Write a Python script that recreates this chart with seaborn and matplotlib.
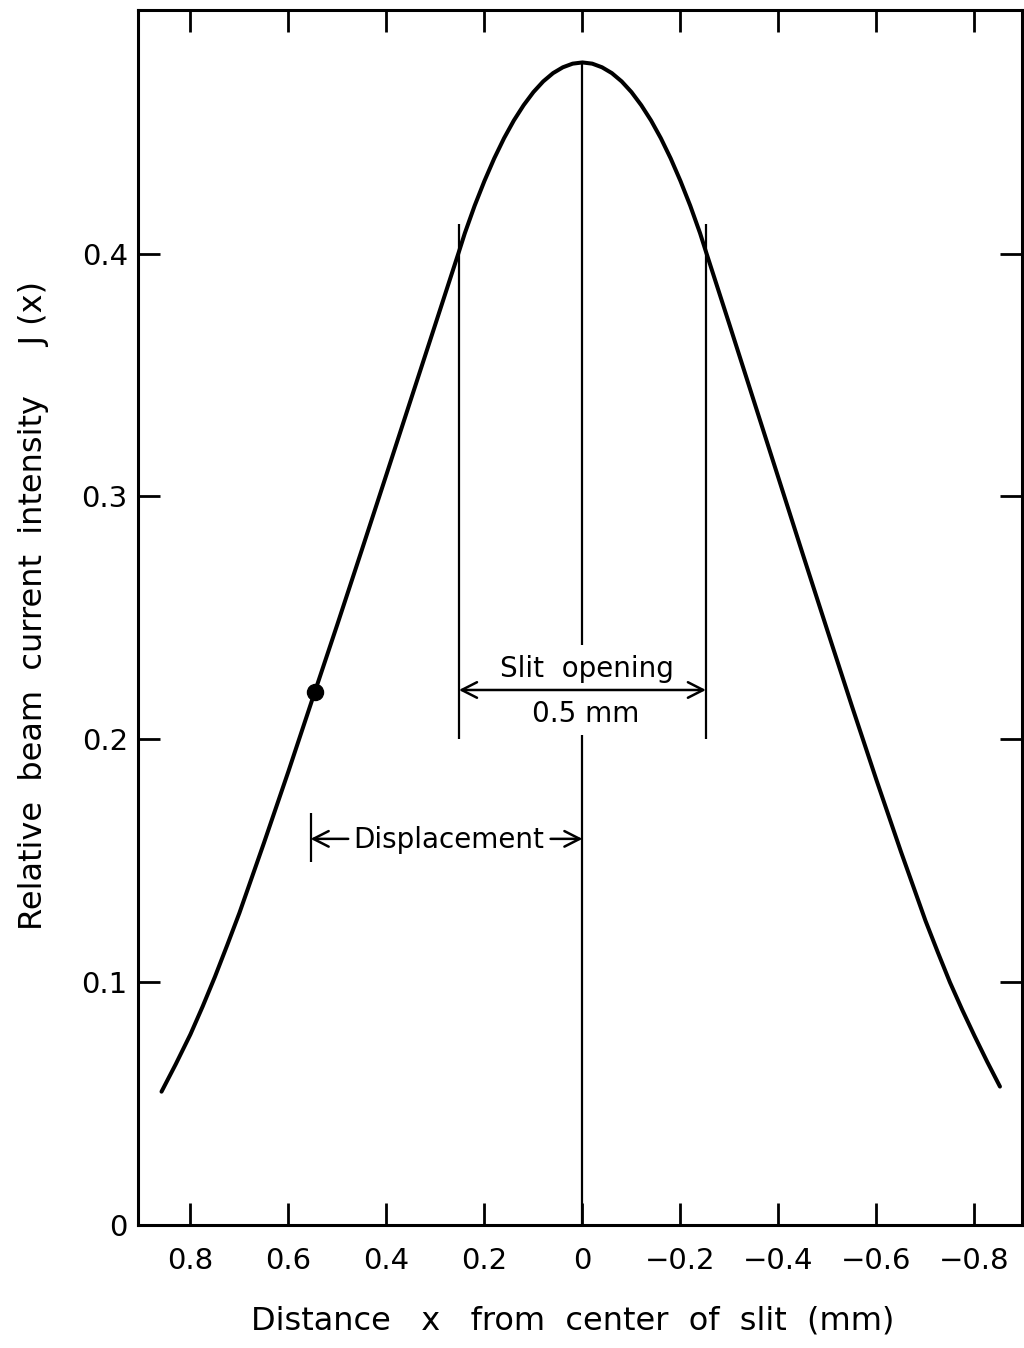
import matplotlib
matplotlib.use("Agg")
import matplotlib.pyplot as plt
import seaborn as sns
import pandas as pd

# ---- data ----
x_mm = [0.859, 0.830, 0.800, 0.775, 0.750, 0.725, 0.700, 0.650, 0.600, 0.546, 0.500, 0.450,
        0.400, 0.350, 0.300, 0.252, 0.240, 0.220, 0.200, 0.180, 0.160, 0.140,
        0.120, 0.100, 0.080, 0.060, 0.040, 0.020, 0.000,
        -0.020, -0.040, -0.060, -0.080, -0.100, -0.120, -0.140, -0.160, -0.180,
        -0.200, -0.220, -0.240, -0.252, -0.300, -0.350, -0.400, -0.450, -0.500,
        -0.550, -0.600, -0.650, -0.700, -0.725, -0.750, -0.775, -0.800, -0.826, -0.852]
J_x = [0.0549, 0.0662, 0.0785, 0.0900, 0.1022, 0.1152, 0.1285, 0.1573, 0.1868, 0.2196, 0.2474, 0.2781,
       0.3090, 0.3400, 0.3710, 0.4008, 0.4084, 0.4197, 0.4299, 0.4392, 0.4475, 0.4548,
       0.4611, 0.4665, 0.4709, 0.4743, 0.4767, 0.4782, 0.4787,
       0.4782, 0.4767, 0.4743, 0.4709, 0.4665, 0.4611, 0.4548, 0.4475, 0.4392,
       0.4299, 0.4197, 0.4084, 0.4008, 0.3708, 0.3392, 0.3076, 0.2760, 0.2447,
       0.2136, 0.1832, 0.1537, 0.1253, 0.1124, 0.0999, 0.0886, 0.0779, 0.0672, 0.0570]

marked_point_x = [0.546]
marked_point_J = [0.2196]

xtick_values = [0.8, 0.6, 0.4, 0.2, 0.0, -0.2, -0.4, -0.6, -0.8]
xtick_labels = ["0.8", "0.6", "0.4", "0.2", "0", "\u22120.2", "\u22120.4", "\u22120.6", "\u22120.8"]
ytick_values = [0.0, 0.1, 0.2, 0.3, 0.4]
ytick_labels = ["0", "0.1", "0.2", "0.3", "0.4"]

slit_edges = [0.252, -0.252]
slit_line_range = [0.200, 0.412]
slit_arrow_J = 0.2203
center_x = 0.0
center_peak_J = 0.4787
center_gap = [0.2018, 0.2389]
displacement_x = 0.5547
displacement_J = 0.159
displacement_bar = [0.1496, 0.1696]
displacement_text_x = 0.273
displacement_arrow_ends = [0.478, 0.065]

xlabel = "Distance   x   from  center  of  slit  (mm)"
ylabel = "Relative  beam  current  intensity     J (x)"

# ---- figure ----
sns.set_theme(style="ticks")
plt.rcParams["font.family"] = ["DejaVu Sans"]
plt.rcParams["text.color"] = "black"
plt.rcParams["axes.labelcolor"] = "black"
plt.rcParams["axes.linewidth"] = 2.2

fig = plt.figure(figsize=(10.24, 13.48), dpi=100)
ax = fig.add_axes([137.5 / 1024, 1 - 1225 / 1348, (1022 - 137.5) / 1024, (1225 - 9.5) / 1348])

df = pd.DataFrame({"x": x_mm, "J": J_x})
sns.lineplot(data=df, x="x", y="J", sort=False, estimator=None, color="black",
             linewidth=2.9, ax=ax)
for line in ax.get_lines():
    line.set_solid_joinstyle("round")
    line.set_solid_capstyle("round")
sns.scatterplot(x=marked_point_x, y=marked_point_J, s=135, color="black",
                edgecolor="black", zorder=5, ax=ax)

ax.set_xlim(0.908, -0.897)
ax.set_ylim(0.0, 0.5005)

ax.set_xticks(xtick_values, labels=xtick_labels)
ax.set_yticks(ytick_values, labels=ytick_labels)
ax.tick_params(axis="both", which="major", direction="in", length=16, width=2.0,
               top=True, right=True, labelsize=21, colors="black")
ax.tick_params(axis="x", pad=16)
ax.tick_params(axis="y", pad=7)
for sp in ax.spines.values():
    sp.set_linewidth(2.2)
    sp.set_color("black")

# center line with gap for the label
ax.vlines(center_x, center_gap[1], center_peak_J, color="black", lw=1.6)
ax.vlines(center_x, 0.0, center_gap[0], color="black", lw=1.6)
# slit edges
ax.vlines(slit_edges, slit_line_range[0], slit_line_range[1], color="black", lw=1.6)

arrow_kw = dict(color="black", lw=1.8, shrinkA=0, shrinkB=0, mutation_scale=20)
ax.annotate("", xy=(slit_edges[1], slit_arrow_J), xytext=(slit_edges[0], slit_arrow_J),
            arrowprops=dict(arrowstyle="<->,head_length=0.55,head_width=0.28", **arrow_kw))
ax.text(-0.010, 0.2256, "Slit  opening", ha="center", va="baseline", fontsize=20, color="black")
ax.text(-0.006, 0.2073, "0.5 mm", ha="center", va="baseline", fontsize=20, color="black")

# displacement
ax.vlines(displacement_x, displacement_bar[0], displacement_bar[1], color="black", lw=1.6)
ax.annotate("", xy=(displacement_x, displacement_J), xytext=(displacement_arrow_ends[0], displacement_J),
            arrowprops=dict(arrowstyle="->,head_length=0.55,head_width=0.28", **arrow_kw))
ax.annotate("", xy=(center_x, displacement_J), xytext=(displacement_arrow_ends[1], displacement_J),
            arrowprops=dict(arrowstyle="->,head_length=0.55,head_width=0.28", **arrow_kw))
ax.text(displacement_text_x, 0.1551, "Displacement", ha="center", va="baseline", fontsize=20, color="black")

ax.set_xlabel(xlabel, fontsize=23, color="black")
ax.set_ylabel(ylabel, fontsize=23, color="black")
ax.xaxis.set_label_coords(0.492, -0.0665)
ax.yaxis.set_label_coords(-0.100, 0.51)

fig.savefig("out.png", dpi=100, facecolor="white")
